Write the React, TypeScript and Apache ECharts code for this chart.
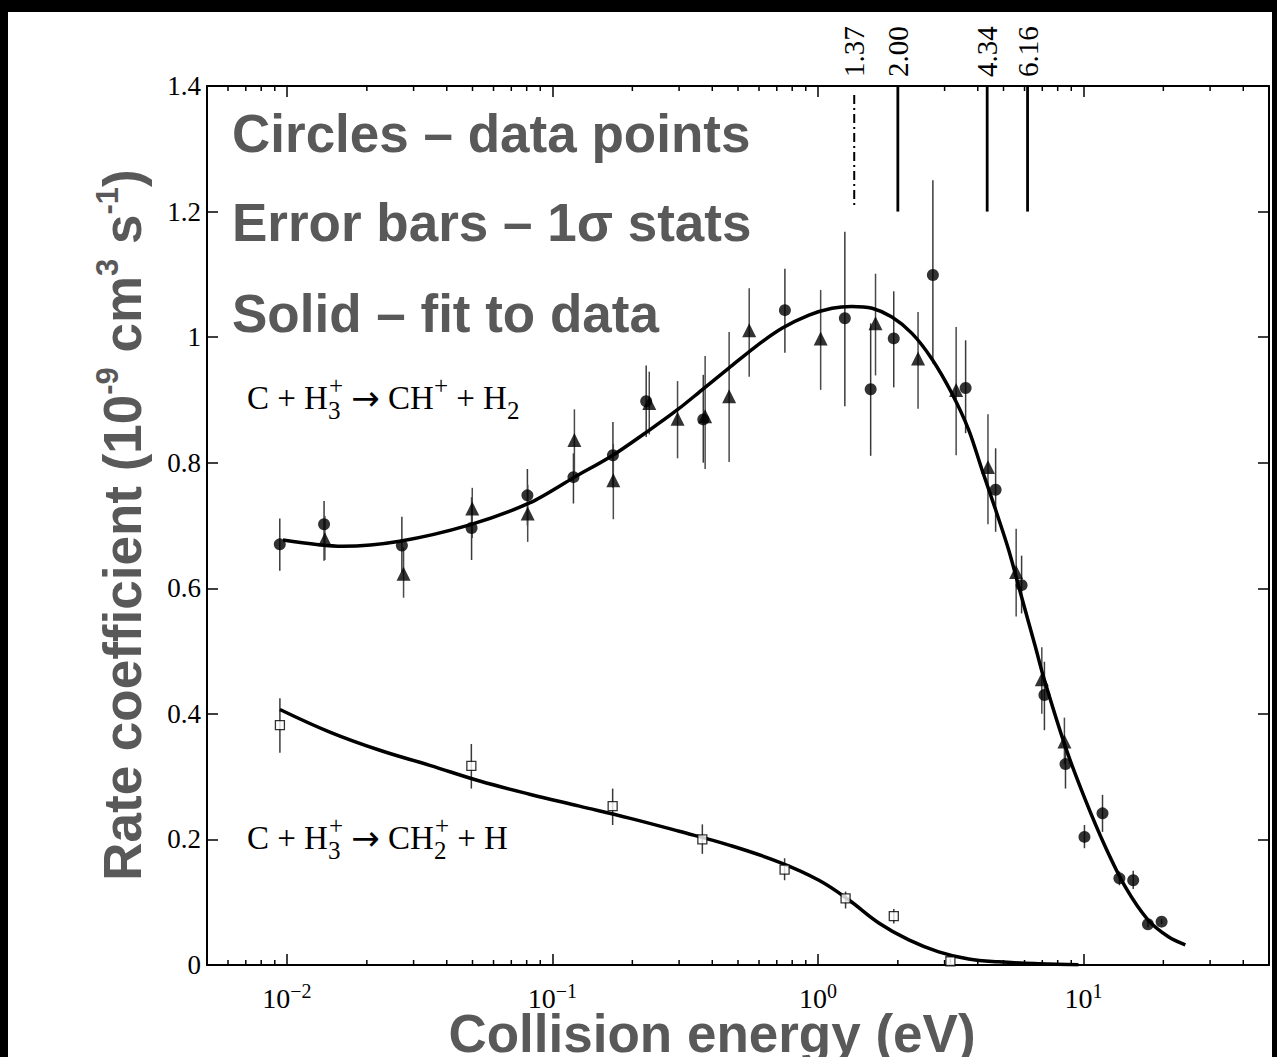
import React, { useEffect, useRef } from 'react';
import * as echarts from 'echarts';

// ---------- frame / layout ----------
const PAGE_W = 1277;
const PAGE_H = 1057;
const OX = 8; // white area offset inside the black frame
const OY = 12;
const CW = 1264;
const CH = 1045;

const SERIF = "'Liberation Serif', 'Times New Roman', serif";
const SANS = "'Liberation Sans', Arial, sans-serif";
const ARROW_FONT = "'DejaVu Sans', sans-serif";
const GREY = '#595959';

// ---------- axes ----------
const X_MIN = 0.005;
const X_MAX = 50;
const Y_MIN = 0;
const Y_MAX = 1.4;
const Y_INTERVAL = 0.2;
const X_TICK_VALUES = [0.01, 0.1, 1, 10];
const X_TICK_EXPONENTS = ['\u22122', '\u22121', '0', '1'];
const MINOR_TICKS = [
  0.006, 0.007, 0.008, 0.009,
  0.02, 0.03, 0.04, 0.05, 0.06, 0.07, 0.08, 0.09,
  0.2, 0.3, 0.4, 0.5, 0.6, 0.7, 0.8, 0.9,
  2, 3, 4, 5, 6, 7, 8, 9,
  20, 30, 40,
];

// ---------- thresholds (top markers) ----------
const THRESHOLD_E = [1.37, 2.0, 4.34, 6.16];
const THRESHOLD_LABELS = ['1.37', '2.00', '4.34', '6.16'];
const THRESHOLD_DASHED = [1, 0, 0, 0];
const THRESHOLD_BOTTOM = 1.2;

// ---------- circles (filled) ----------
const CIRCLE_E = [0.0094, 0.0138, 0.0271, 0.0496, 0.0805, 0.12, 0.169, 0.2255, 0.37, 0.751, 1.263, 1.58, 1.93, 2.71, 3.6, 4.67, 5.85, 7.13, 8.56, 10.09, 11.8, 13.66, 15.4, 17.5, 19.7];
const CIRCLE_V = [0.67, 0.702, 0.668, 0.696, 0.748, 0.777, 0.812, 0.898, 0.869, 1.043, 1.03, 0.917, 0.998, 1.099, 0.919, 0.757, 0.605, 0.43, 0.32, 0.204, 0.2415, 0.138, 0.135, 0.065, 0.069];
const CIRCLE_LO = [0.628, 0.644, 0.625, 0.645, 0.7, 0.735, 0.76, 0.841, 0.8, 0.975, 0.89, 0.811, 0.92, 0.958, 0.847, 0.69, 0.56, 0.374, 0.281, 0.186, 0.212, 0.127, 0.121, 0.06, 0.065];
const CIRCLE_HI = [0.711, 0.739, 0.714, 0.745, 0.79, 0.815, 0.865, 0.955, 0.94, 1.109, 1.168, 1.022, 1.073, 1.25, 0.995, 0.823, 0.652, 0.483, 0.348, 0.223, 0.271, 0.149, 0.15, 0.07, 0.073];

// ---------- triangles (filled) ----------
const TRI_E = [0.0139, 0.0275, 0.0499, 0.0807, 0.121, 0.1696, 0.2316, 0.296, 0.376, 0.463, 0.551, 1.024, 1.648, 2.383, 3.316, 4.37, 5.58, 6.97, 8.48];
const TRI_V = [0.678, 0.623, 0.727, 0.719, 0.836, 0.772, 0.895, 0.87, 0.874, 0.906, 1.011, 0.998, 1.022, 0.966, 0.916, 0.793, 0.626, 0.455, 0.356];
const TRI_LO = [0.645, 0.585, 0.68, 0.674, 0.785, 0.71, 0.845, 0.807, 0.79, 0.801, 0.937, 0.916, 0.939, 0.886, 0.812, 0.702, 0.555, 0.4, 0.32];
const TRI_HI = [0.715, 0.665, 0.76, 0.765, 0.885, 0.83, 0.945, 0.93, 0.97, 1.008, 1.078, 1.075, 1.101, 1.04, 1.016, 0.877, 0.695, 0.506, 0.394];

// ---------- squares (open) ----------
const SQ_E = [0.00941, 0.0495, 0.1686, 0.367, 0.749, 1.271, 1.931, 3.155];
const SQ_V = [0.382, 0.317, 0.253, 0.2, 0.152, 0.106, 0.078, 0.006];
const SQ_LO = [0.338, 0.281, 0.223, 0.177, 0.135, 0.09, 0.066, 0.002];
const SQ_HI = [0.425, 0.352, 0.281, 0.224, 0.17, 0.117, 0.089, 0.01];

// ---------- fit curves ----------
const FIT1_E = [0.00966, 0.0162, 0.0266, 0.0488, 0.082, 0.121, 0.169, 0.232, 0.295, 0.366, 0.463, 0.583, 0.732, 0.925, 1.13, 1.34, 1.6, 1.9, 2.26, 2.68, 3.19, 3.7, 4.14, 4.67, 5.23, 5.85, 6.6, 7.07, 8.56, 10.17, 12.1, 14.4, 17.5, 20.9, 24.2];
const FIT1_V = [0.677, 0.667, 0.675, 0.701, 0.736, 0.777, 0.812, 0.852, 0.884, 0.916, 0.951, 0.985, 1.014, 1.035, 1.046, 1.049, 1.046, 1.032, 1.006, 0.966, 0.911, 0.852, 0.79, 0.725, 0.661, 0.586, 0.506, 0.459, 0.347, 0.263, 0.188, 0.124, 0.072, 0.045, 0.032];

const FIT2_E = [0.00941, 0.01451, 0.02238, 0.03451, 0.0532, 0.082, 0.1264, 0.1948, 0.3002, 0.4628, 0.7135, 1.0087, 1.308, 1.695, 2.199, 2.85, 3.696, 4.791, 6.773, 9.577];
const FIT2_V = [0.407, 0.371, 0.342, 0.318, 0.293, 0.272, 0.253, 0.234, 0.213, 0.191, 0.164, 0.135, 0.1035, 0.067, 0.04, 0.021, 0.0096, 0.005, 0.002, 0.0005];

// ---------- texts ----------
const NOTES = ['Circles \u2013 data points', 'Error bars \u2013 1\u03c3 stats', 'Solid \u2013 fit to data'];
const NOTE_Y = [133, 222, 313];
const X_TITLE = 'Collision energy (eV)';

const zip = (a: number[], b: number[]) => a.map((v, i) => [v, b[i]]);
const zip3 = (a: number[], b: number[], c: number[]) => a.map((v, i) => [v, b[i], c[i]]);

function errorBarSeries(data: number[][], color: string) {
  return {
    type: 'custom',
    xAxisIndex: 0,
    yAxisIndex: 0,
    z: 3,
    silent: true,
    encode: { x: 0, y: [1, 2] },
    data,
    renderItem: (_p: any, api: any) => {
      const x = api.value(0);
      const a = api.coord([x, api.value(1)]);
      const b = api.coord([x, api.value(2)]);
      return {
        type: 'line',
        shape: { x1: a[0], y1: a[1], x2: b[0], y2: b[1] },
        style: { stroke: color, lineWidth: 1.5 },
      };
    },
  };
}

function buildOption() {
  const chemRich = {
    m: { fontFamily: SERIF, fontSize: 33, lineHeight: 50, verticalAlign: 'middle', fill: '#000' },
    ar: { fontFamily: ARROW_FONT, fontSize: 34, lineHeight: 50, verticalAlign: 'middle', fill: '#000' },
    sbs: { fontFamily: SERIF, fontSize: 25, lineHeight: 16, verticalAlign: 'bottom', fill: '#000', width: 1 },
    sb: { fontFamily: SERIF, fontSize: 25, lineHeight: 16, verticalAlign: 'bottom', fill: '#000' },
    sp: { fontFamily: SERIF, fontSize: 25, lineHeight: 34, verticalAlign: 'top', fill: '#000' },
  };
  const yTitleRich = {
    t: { fontFamily: SANS, fontWeight: 'bold', fontSize: 53, lineHeight: 60, verticalAlign: 'middle', fill: GREY },
    s: { fontFamily: SANS, fontWeight: 'bold', fontSize: 31, lineHeight: 26, verticalAlign: 'top', fill: GREY },
  };

  const graphic: any[] = [
    ...NOTES.map((t, i) => ({
      type: 'text',
      x: 232 - OX,
      y: NOTE_Y[i] - OY,
      silent: true,
      style: { text: t, fontFamily: SANS, fontWeight: 'bold', fontSize: 53, fill: GREY, align: 'left', verticalAlign: 'middle' },
    })),
    {
      type: 'text',
      x: 712 - OX,
      y: 1033 - OY,
      silent: true,
      style: { text: X_TITLE, fontFamily: SANS, fontWeight: 'bold', fontSize: 53, fill: GREY, align: 'center', verticalAlign: 'middle' },
    },
    {
      type: 'text',
      x: 122 - OX,
      y: 525 - OY,
      rotation: Math.PI / 2,
      silent: true,
      style: {
        text: '{t|Rate coefficient (10}{s|-9}{t| cm}{s|3}{t| s}{s|-1}{t|)}',
        rich: yTitleRich,
        align: 'center',
        verticalAlign: 'middle',
      },
    },
    {
      type: 'text',
      x: 247 - OX,
      y: 398 - OY,
      silent: true,
      style: {
        text: '{m|C + H}{sbs|3}{sp|+}{m| }{ar|\u2192}{m| CH}{sp|+}{m| + H}{sb|2}',
        rich: chemRich,
        align: 'left',
        verticalAlign: 'middle',
      },
    },
    {
      type: 'text',
      x: 247 - OX,
      y: 838 - OY,
      silent: true,
      style: {
        text: '{m|C + H}{sbs|3}{sp|+}{m| }{ar|\u2192}{m| CH}{sbs|2}{sp|+}{m| + H}',
        rich: chemRich,
        align: 'left',
        verticalAlign: 'middle',
      },
    },
  ];

  const baseX = {
    type: 'log',
    logBase: 10,
    min: X_MIN,
    max: X_MAX,
    splitLine: { show: false },
    axisLine: { show: true, onZero: false, lineStyle: { color: '#000', width: 2 } },
    axisTick: { show: true, inside: true, length: 11, lineStyle: { color: '#000', width: 1.5 } },
  };
  const baseY = {
    type: 'value',
    min: Y_MIN,
    max: Y_MAX,
    interval: Y_INTERVAL,
    splitLine: { show: false },
    axisLine: { show: true, onZero: false, lineStyle: { color: '#000', width: 2 } },
    axisTick: { show: true, inside: true, length: 11, lineStyle: { color: '#000', width: 1.5 } },
  };

  return {
    animation: false,
    backgroundColor: '#fff',
    grid: { left: 207 - OX, top: 86 - OY, width: 1064, height: 879, containLabel: false },
    graphic,
    xAxis: [
      {
        ...baseX,
        position: 'bottom',
        axisLabel: {
          margin: 16,
          formatter: (v: number) => {
            const i = X_TICK_VALUES.findIndex((t) => Math.abs(t - v) / t < 1e-6);
            if (i < 0) return '';
            return `{b|10}{s|${X_TICK_EXPONENTS[i]}}`;
          },
          rich: {
            b: { fontFamily: SERIF, fontSize: 28, lineHeight: 34, verticalAlign: 'middle', color: '#000' },
            s: { fontFamily: SERIF, fontSize: 20, lineHeight: 12, verticalAlign: 'top', color: '#000' },
          },
        },
      },
      {
        ...baseX,
        position: 'top',
        axisLabel: { show: false },
      },
    ],
    yAxis: [
      {
        ...baseY,
        position: 'left',
        axisLabel: { fontFamily: SERIF, fontSize: 27, color: '#000', margin: 6 },
      },
      {
        ...baseY,
        position: 'right',
        axisLabel: { show: false },
      },
    ],
    series: [
      errorBarSeries(zip3(CIRCLE_E, CIRCLE_LO, CIRCLE_HI), '#3a3a3a'),
      errorBarSeries(zip3(TRI_E, TRI_LO, TRI_HI), '#4a4a4a'),
      errorBarSeries(zip3(SQ_E, SQ_LO, SQ_HI), '#3a3a3a'),
      {
        type: 'line',
        xAxisIndex: 0,
        yAxisIndex: 0,
        data: zip(FIT1_E, FIT1_V),
        showSymbol: false,
        smooth: 0.3,
        silent: true,
        z: 4,
        lineStyle: { color: '#000', width: 3.5 },
      },
      {
        type: 'line',
        xAxisIndex: 0,
        yAxisIndex: 0,
        data: zip(FIT2_E, FIT2_V),
        showSymbol: false,
        smooth: 0.4,
        silent: true,
        z: 4,
        lineStyle: { color: '#000', width: 3.5 },
      },
      {
        type: 'scatter',
        xAxisIndex: 0,
        yAxisIndex: 0,
        data: zip(SQ_E, SQ_V),
        symbol: 'rect',
        symbolSize: 9,
        silent: true,
        z: 5,
        itemStyle: { color: '#fff', borderColor: '#000', borderWidth: 1.3 },
      },
      {
        type: 'scatter',
        xAxisIndex: 0,
        yAxisIndex: 0,
        data: zip(TRI_E, TRI_V),
        symbol: 'triangle',
        symbolSize: 14,
        silent: true,
        z: 5,
        itemStyle: { color: '#000' },
      },
      {
        type: 'scatter',
        xAxisIndex: 0,
        yAxisIndex: 0,
        data: zip(CIRCLE_E, CIRCLE_V),
        symbol: 'circle',
        symbolSize: 12,
        silent: true,
        z: 5,
        itemStyle: { color: '#000' },
      },
      {
        type: 'custom',
        xAxisIndex: 0,
        yAxisIndex: 0,
        silent: true,
        z: 6,
        encode: { x: 0, y: 1 },
        data: MINOR_TICKS.map((v) => [v, Y_MIN]),
        renderItem: (_p: any, api: any) => {
          const x = api.value(0);
          const b = api.coord([x, Y_MIN]);
          const t = api.coord([x, Y_MAX]);
          const st = { stroke: '#000', lineWidth: 1.5 };
          return {
            type: 'group',
            children: [
              { type: 'line', shape: { x1: b[0], y1: b[1], x2: b[0], y2: b[1] - 5 }, style: st },
              { type: 'line', shape: { x1: t[0], y1: t[1], x2: t[0], y2: t[1] + 5 }, style: st },
            ],
          };
        },
      },
      {
        type: 'custom',
        xAxisIndex: 0,
        yAxisIndex: 0,
        silent: true,
        z: 6,
        encode: { x: 0, y: 1 },
        data: THRESHOLD_E.map((e, i) => [e, THRESHOLD_BOTTOM, THRESHOLD_DASHED[i], i]),
        renderItem: (_p: any, api: any) => {
          const x = api.value(0);
          const dashed = api.value(2) === 1;
          const idx = api.value(3);
          const top = api.coord([x, Y_MAX]);
          const bot = api.coord([x, api.value(1)]);
          return {
            type: 'group',
            children: [
              {
                type: 'line',
                shape: { x1: top[0], y1: top[1] + (dashed ? 9 : 0), x2: bot[0], y2: bot[1] - (dashed ? 3 : 0) },
                style: dashed
                  ? { stroke: '#000', lineWidth: 2, lineDash: [9, 4, 2, 4] }
                  : { stroke: '#000', lineWidth: 2.8 },
              },
              {
                type: 'text',
                x: top[0],
                y: top[1] - 9,
                rotation: Math.PI / 2,
                style: {
                  text: THRESHOLD_LABELS[idx],
                  fontFamily: SERIF,
                  fontSize: 29,
                  fill: '#000',
                  align: 'left',
                  verticalAlign: 'middle',
                },
              },
            ],
          };
        },
      },
    ],
  };
}

export default function App() {
  const ref = useRef<HTMLDivElement>(null);
  useEffect(() => {
    if (!ref.current) return;
    const chart = echarts.init(ref.current, undefined, { renderer: 'svg' });
    chart.setOption(buildOption() as any);
    return () => {
      chart.dispose();
    };
  }, []);
  return (
    <div
      style={{
        position: 'fixed',
        left: 0,
        top: 0,
        width: PAGE_W,
        height: PAGE_H,
        background: '#000',
        overflow: 'hidden',
      }}
    >
      <div
        ref={ref}
        style={{ position: 'absolute', left: OX, top: OY, width: CW, height: CH, background: '#fff' }}
      />
    </div>
  );
}
